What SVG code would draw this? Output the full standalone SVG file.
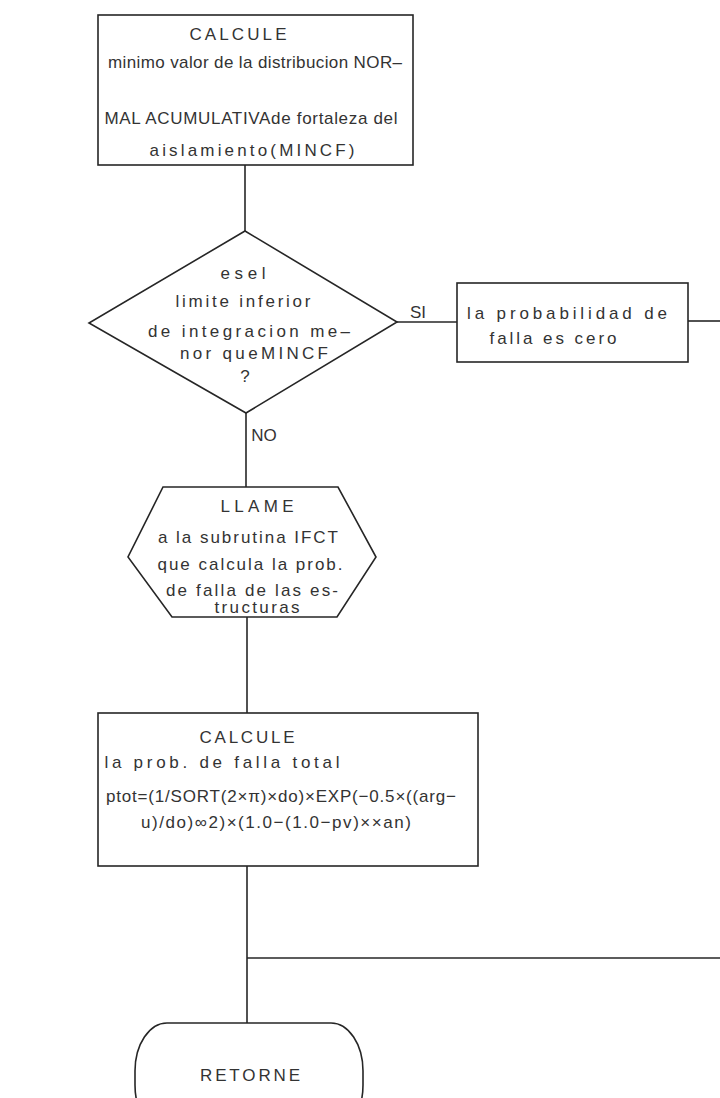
<svg xmlns="http://www.w3.org/2000/svg" width="720" height="1098" viewBox="0 0 720 1098">
<style>
.s{fill:none;stroke:#262626;stroke-width:1.6}
.t{font-family:"Liberation Sans","DejaVu Sans",sans-serif;font-size:17px;fill:#333;text-anchor:middle}
</style>
<rect width="720" height="1098" fill="#fff"/>
<g id="connectors" class="s">
<line x1="245" y1="165" x2="245" y2="231"/>
<line x1="397" y1="322" x2="457" y2="322"/>
<line x1="688" y1="321" x2="720" y2="321"/>
<line x1="246" y1="413" x2="246" y2="487"/>
<line x1="247" y1="617" x2="247" y2="713"/>
<line x1="247" y1="866" x2="247" y2="1023"/>
<line x1="247" y1="958" x2="720" y2="958"/>
</g>
<g id="n1">
<rect class="s" x="98" y="15" width="315" height="150"/>
<text class="t" x="238" y="40" textLength="97">CALCULE</text>
<text class="t" x="255" y="68" textLength="294">minimo  valor de la distribucion NOR–</text>
<text class="t" x="251" y="124" textLength="293">MAL ACUMULATIVAde fortaleza del</text>
<text class="t" x="252" y="156" textLength="205">aislamiento(MINCF)</text>
</g>
<g id="n2">
<polygon class="s" points="245,231 397,322 246,413 89,323"/>
<text class="t" x="243" y="279" textLength="45">esel</text>
<text class="t" x="243" y="307" textLength="135">limite inferior</text>
<text class="t" x="249" y="337" textLength="202">de integracion me–</text>
<text class="t" x="254" y="359" textLength="148">nor queMINCF</text>
<text class="t" x="245" y="382">?</text>
</g>
<text class="t" x="418" y="318">SI</text>
<text class="t" x="264" y="441">NO</text>
<g id="n3">
<rect class="s" x="457" y="283" width="231" height="79"/>
<text class="t" x="567" y="319" textLength="200">la probabilidad de</text>
<text class="t" x="553" y="344" textLength="127">falla  es cero</text>
</g>
<g id="n4">
<polygon class="s" points="163,487 338,487 376,557 337,617 172,617 128,557"/>
<text class="t" x="257" y="512" textLength="73">LLAME</text>
<text class="t" x="248" y="543" textLength="180">a la subrutina IFCT</text>
<text class="t" x="250" y="570" textLength="185">que calcula la prob.</text>
<text class="t" x="252" y="596" textLength="172">de falla de las es-</text>
<text class="t" x="257" y="613" textLength="85">tructuras</text>
</g>
<g id="n5">
<rect class="s" x="98" y="713" width="380" height="153"/>
<text class="t" x="247" y="743" textLength="95">CALCULE</text>
<text class="t" x="222" y="768" textLength="235">la prob. de falla total</text>
<text class="t" x="281" y="802" textLength="350">ptot=(1/SORT(2×π)×do)×EXP(−0.5×((arg−</text>
<text class="t" x="276" y="828" textLength="270">u)/do)∞2)×(1.0−(1.0−pv)××an)</text>
</g>
<g id="n6">
<rect class="s" x="135" y="1023" width="228" height="110" rx="32" ry="48"/>
<text class="t" x="250" y="1081" textLength="100">RETORNE</text>
</g>
</svg>
